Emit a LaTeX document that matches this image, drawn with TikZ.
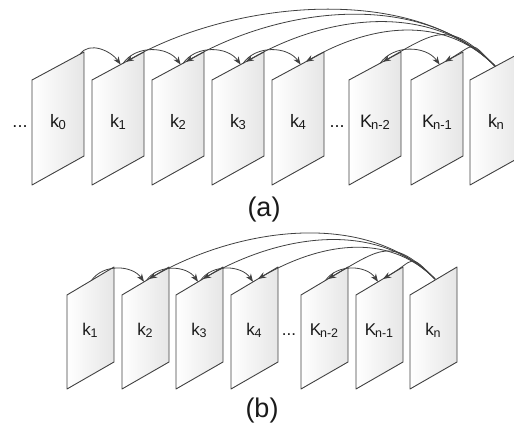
\documentclass[tikz,border=0pt]{standalone}
\usepackage{fontspec}
\setmainfont{Liberation Sans}
\usetikzlibrary{arrows.meta}

\definecolor{edge}{HTML}{404040}
\definecolor{ink}{HTML}{1A1A1A}
\definecolor{sheetgray}{HTML}{E6E6E6}

\tikzset{
  sheet/.style={draw=edge, line width=0.9pt, left color=white, right color=sheetgray, line join=round},
  link/.style={draw=edge, line width=0.8pt, -{Stealth[length=8pt,width=6pt]}},
  lblA/.style={font=\fontsize{18}{18}\selectfont, text=ink, anchor=base, inner sep=0pt},
  lblB/.style={font=\fontsize{17}{17}\selectfont, text=ink, anchor=base, inner sep=0pt},
  caption/.style={font=\fontsize{27}{27}\selectfont, text=ink, inner sep=0pt},
}

% subscripts of the sheet labels
\newcommand\subA[1]{\kern-0.3pt\raisebox{-1.5pt}{\fontsize{13}{13}\selectfont #1}}
\newcommand\subB[1]{\kern-0.3pt\raisebox{-1.5pt}{\fontsize{12.5}{12.5}\selectfont #1}}

% upper row sheet: name, left x, label
\newcommand\sheetA[3]{%
  \path[sheet] (#2,-80) -- (#2+52,-52) -- (#2+52,-156) -- (#2,-185) -- cycle;
  \node[lblA] (#1) at (#2+26,-128) {#3};
  \coordinate (#1-s) at (#2+28.6,-64.6);
  \coordinate (#1-o) at (#2+31.2,-63.2);
  \coordinate (#1-l) at (#2+33.8,-61.8);
}
% lower row sheet: name, left x, label
\newcommand\sheetB[3]{%
  \path[sheet] (#2,-295) -- (#2+47,-267) -- (#2+47,-362) -- (#2,-389) -- cycle;
  \node[lblB] (#1) at (#2+23,-336) {#3};
  \coordinate (#1-s) at (#2+22,-281.8);
  \coordinate (#1-o) at (#2+24.5,-280.4);
  \coordinate (#1-l) at (#2+27,-278.9);
}

\begin{document}
\begin{tikzpicture}[x=1pt,y=1pt]
\useasboundingbox (0,0) rectangle (514,-427);
\clip (0,0) rectangle (514,-427);

% ---------- (a) ----------
\node[lblA] (dotsA1) at (20,-128) {...};
\sheetA{a0}{32}{k\subA{0}}
\sheetA{a1}{92}{k\subA{1}}
\sheetA{a2}{152}{k\subA{2}}
\sheetA{a3}{212}{k\subA{3}}
\sheetA{a4}{272}{k\subA{4}}
\node[lblA] (dotsA2) at (337,-128) {...};
\sheetA{am2}{349}{K\kern-0.8pt\subA{n-2}}
\sheetA{am1}{411}{K\kern-0.8pt\subA{n-1}}
\sheetA{an}{470}{k\subA{n}}
\coordinate (a0-start) at (80,-54.2);
\coordinate (an-o) at (495,-66);

\draw[link] (a0-start) to[out=55,in=125] (a1-s);
\draw[link] (a1-o) to[out=55,in=125] (a2-s);
\draw[link] (a2-o) to[out=55,in=125] (a3-s);
\draw[link] (a3-o) to[out=55,in=125] (a4-s);
\draw[link] (am2-o) to[out=55,in=125] (am1-s);

\foreach \tgt/\loose in {a1/0.83, a2/0.9, a3/0.95, a4/1.0, am2/1.46, am1/1.9}
  \draw[link] (an-o) to[out=135,in=30,looseness=\loose] (\tgt-l);

\node[caption] (capA) at (264,-210) {(a)};

% ---------- (b) ----------
\sheetB{b1}{67}{k\subB{1}}
\sheetB{b2}{122}{k\subB{2}}
\sheetB{b3}{176}{k\subB{3}}
\sheetB{b4}{231}{k\subB{4}}
\node[lblB] (dotsB) at (289,-336) {...};
\sheetB{bm2}{301}{K\kern-0.8pt\subB{n-2}}
\sheetB{bm1}{356}{K\kern-0.8pt\subB{n-1}}
\sheetB{bn}{410}{k\subB{n}}
\coordinate (bn-o) at (435,-279);

\draw[link] (b1-o) to[out=55,in=125] (b2-s);
\draw[link] (b2-o) to[out=55,in=125] (b3-s);
\draw[link] (b3-o) to[out=55,in=125] (b4-s);
\draw[link] (bm2-o) to[out=55,in=125] (bm1-s);

\foreach \tgt/\loose in {b2/0.9, b3/0.95, b4/1.0, bm2/1.46, bm1/1.9}
  \draw[link] (bn-o) to[out=135,in=30,looseness=\loose] (\tgt-l);

\node[caption] (capB) at (262,-411) {(b)};
\end{tikzpicture}
\end{document}
